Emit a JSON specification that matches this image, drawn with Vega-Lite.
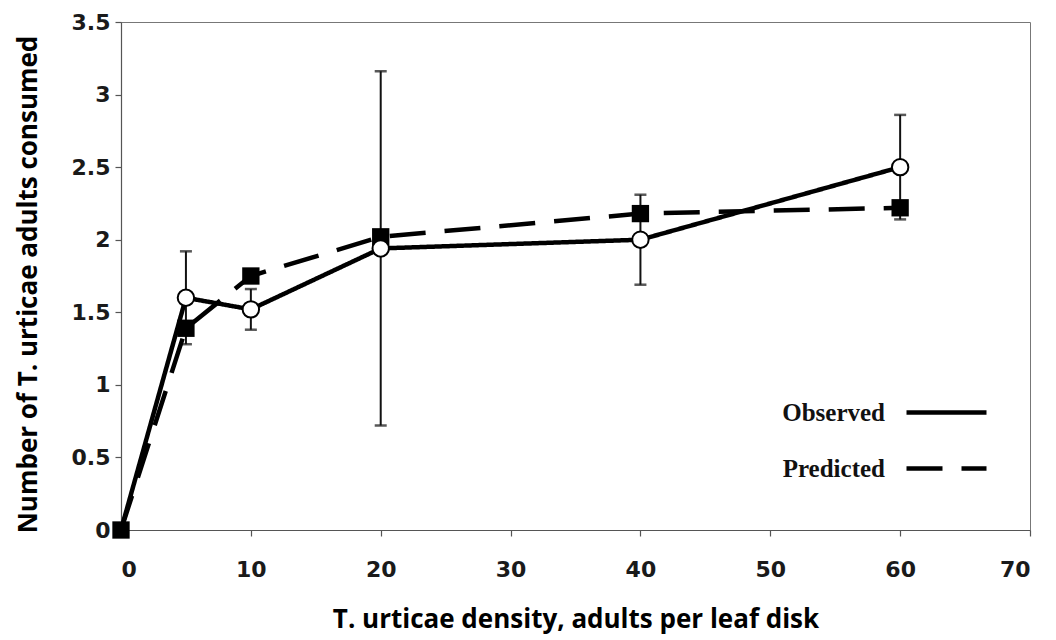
{
  "$schema": "https://vega.github.io/schema/vega-lite/v6.json",
  "width": 909,
  "height": 508,
  "autosize": {"type": "none"},
  "padding": {"left": 121, "top": 22, "right": 26, "bottom": 110},
  "background": "white",
  "config": {
    "view": {"stroke": "#777", "strokeWidth": 1},
    "axis": {
      "grid": false,
      "domainColor": "#555",
      "domainWidth": 1.2,
      "tickColor": "#555",
      "tickWidth": 1.2,
      "tickSize": 6,
      "labelFont": "DejaVu Sans",
      "labelFontWeight": "bold",
      "labelFontSize": 22,
      "labelColor": "#1a1a1a",
      "titleFont": "Open Sans",
      "titleFontWeight": "bold",
      "titleFontSize": 26,
      "titleColor": "#000"
    }
  },
  "datasets": {
    "series": [
      {"x": 0, "y": 0, "series": "Observed"},
      {"x": 5, "y": 1.6, "series": "Observed"},
      {"x": 10, "y": 1.52, "series": "Observed"},
      {"x": 20, "y": 1.94, "series": "Observed"},
      {"x": 40, "y": 2.0, "series": "Observed"},
      {"x": 60, "y": 2.5, "series": "Observed"},
      {"x": 0, "y": 0, "series": "Predicted"},
      {"x": 5, "y": 1.39, "series": "Predicted"},
      {"x": 10, "y": 1.75, "series": "Predicted"},
      {"x": 20, "y": 2.02, "series": "Predicted"},
      {"x": 40, "y": 2.18, "series": "Predicted"},
      {"x": 60, "y": 2.22, "series": "Predicted"}
    ],
    "errors": [
      {"x": 5, "lo": 1.28, "hi": 1.92},
      {"x": 10, "lo": 1.38, "hi": 1.66},
      {"x": 20, "lo": 0.72, "hi": 3.16},
      {"x": 40, "lo": 1.69, "hi": 2.31},
      {"x": 60, "lo": 2.14, "hi": 2.86}
    ]
  },
  "layer": [
    {
      "data": {"name": "errors"},
      "mark": {"type": "rule", "color": "#111", "strokeWidth": 2},
      "encoding": {
        "x": {"field": "x", "type": "quantitative", "scale": {"domain": [0, 70]},
          "axis": {"values": [0, 10, 20, 30, 40, 50, 60, 70], "labelPadding": 23, "title": "T. urticae density, adults per leaf disk", "titlePadding": 26}},
        "y": {"field": "lo", "type": "quantitative", "scale": {"domain": [0, 3.5]},
          "axis": {"values": [0, 0.5, 1, 1.5, 2, 2.5, 3, 3.5], "labelExpr": "'' + datum.value", "labelPadding": 5, "title": "Number of T. urticae adults consumed", "titlePadding": 30, "titleY": 262}},
        "y2": {"field": "hi"}
      }
    },
    {
      "data": {"name": "errors"},
      "mark": {"type": "tick", "orient": "horizontal", "color": "#111", "size": 12, "thickness": 2.5},
      "encoding": {
        "x": {"field": "x", "type": "quantitative"},
        "y": {"field": "lo", "type": "quantitative"}
      }
    },
    {
      "data": {"name": "errors"},
      "mark": {"type": "tick", "orient": "horizontal", "color": "#111", "size": 12, "thickness": 2.5},
      "encoding": {
        "x": {"field": "x", "type": "quantitative"},
        "y": {"field": "hi", "type": "quantitative"}
      }
    },
    {
      "data": {"name": "series"},
      "mark": {"type": "line", "color": "#000", "strokeWidth": 4.5},
      "encoding": {
        "x": {"field": "x", "type": "quantitative"},
        "y": {"field": "y", "type": "quantitative"},
        "detail": {"field": "series", "type": "nominal"},
        "strokeDash": {
          "field": "series", "type": "nominal",
          "scale": {"domain": ["Observed", "Predicted"], "range": [[1, 0], [36, 19]]},
          "legend": {
            "orient": "none",
            "legendX": 783,
            "legendY": 348,
            "title": null,
            "padding": 0,
            "symbolType": "stroke",
            "symbolSize": 6400,
            "symbolStrokeWidth": 4.5,
            "symbolStrokeColor": "#000",
            "rowPadding": -45,
            "labelAlign": "right",
            "labelOffset": -104,
            "labelFont": "Liberation Serif",
            "labelFontWeight": "bold",
            "labelFontSize": 25,
            "labelColor": "#111",
            "labelLimit": 300
          }
        }
      }
    },
    {
      "data": {"name": "series"},
      "transform": [{"filter": "datum.series === 'Predicted'"}],
      "mark": {"type": "point", "shape": "square", "filled": true, "color": "#000", "size": 300, "opacity": 1},
      "encoding": {
        "x": {"field": "x", "type": "quantitative"},
        "y": {"field": "y", "type": "quantitative"}
      }
    },
    {
      "data": {"name": "series"},
      "transform": [{"filter": "datum.series === 'Observed' && datum.x > 0"}],
      "mark": {"type": "point", "shape": "circle", "filled": true, "fill": "#fff", "stroke": "#000", "strokeWidth": 2, "size": 270, "opacity": 1},
      "encoding": {
        "x": {"field": "x", "type": "quantitative"},
        "y": {"field": "y", "type": "quantitative"}
      }
    }
  ]
}
